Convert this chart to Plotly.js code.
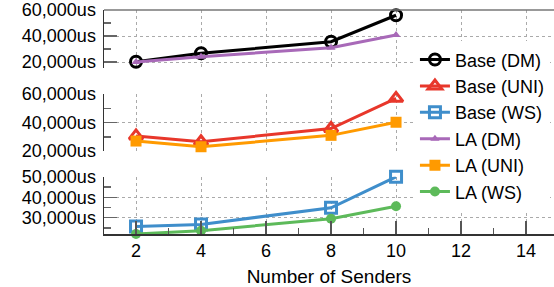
<!DOCTYPE html>
<html>
<head>
<meta charset="utf-8">
<script src="https://cdn.plot.ly/plotly-3.0.1.min.js"></script>
<style>html,body{margin:0;padding:0;background:#fff;}#chart{width:554px;height:287px;}</style>
</head>
<body>
<div id="chart"></div>
<script>
const senders = [2, 4, 8, 10];
const baseDM  = [20200, 26700, 35600, 56000];
const laDM    = [20000, 24100, 31000, 40800];
const baseUNI = [30600, 26500, 35800, 57000];
const laUNI   = [27000, 23000, 31000, 40200];
const baseWS  = [25700, 26700, 34900, 50100];
const laWS    = [22000, 23600, 29500, 35600];

const FONT = 'Liberation Sans, Arial, sans-serif';
const C = {black:'#000000', red:'#E8372B', blue:'#3F8ECB', purple:'#A869B8', orange:'#FF9A00', green:'#5DBA5A'};

function tr(name, y, yaxis, color, symbol, size, lw) {
  return {
    x: senders, y: y, name: name, yaxis: yaxis, xaxis: 'x',
    type: 'scatter', mode: 'lines+markers', cliponaxis: false,
    line: {color: color, width: 3},
    marker: {symbol: symbol, size: size, color: color, line: {color: color, width: lw}}
  };
}

const data = [
  tr('Base (DM)', baseDM, 'y3', C.black, 'circle-open', 11, 3),
  tr('Base (UNI)', baseUNI, 'y2', C.red, 'triangle-up-open', 12, 3),
  tr('Base (WS)', baseWS, 'y', C.blue, 'square-open', 11, 3),
  tr('LA (DM)', laDM, 'y3', C.purple, 'triangle-up', 8, 0),
  tr('LA (UNI)', laUNI, 'y2', C.orange, 'square', 11, 0),
  tr('LA (WS)', laWS, 'y', C.green, 'circle', 10, 0)
];

function yax(domain, range, dtick, minorDtick) {
  return {
    domain: domain, range: range, dtick: dtick, tick0: 0,
    tickformat: ',d', ticksuffix: 'us', ticklabelstandoff: 3,
    showline: true, linecolor: '#333', linewidth: 1.5,
    ticks: 'inside', ticklen: 13, tickwidth: 1.5, tickcolor: '#666',
    showgrid: true, gridcolor: '#aaa', griddash: 'dot', gridwidth: 1,
    zeroline: false, anchor: 'x',
    tickfont: {family: FONT, size: 18, color: '#000'},
    minor: {dtick: minorDtick, tick0: 0, ticks: 'inside', ticklen: 7, tickwidth: 1.5, tickcolor: '#666', showgrid: false}
  };
}

const layout = {
  width: 554, height: 287,
  margin: {l: 104, r: 0, t: 10, b: 53},
  paper_bgcolor: '#fff', plot_bgcolor: 'rgba(0,0,0,0)',
  font: {family: FONT, size: 18, color: '#000'},
  showlegend: true,
  legend: {x: 0.691, xanchor: 'left', y: 0.86, yanchor: 'top', bgcolor: '#fff',
           font: {family: FONT, size: 18, color: '#000'}, tracegroupgap: 0, itemwidth: 30},
  xaxis: {
    range: [1.015, 14.86], dtick: 2, tick0: 0, anchor: 'y',
    showline: true, linecolor: '#333', linewidth: 1.5,
    ticks: 'inside', ticklen: 13, tickwidth: 1.5, tickcolor: '#555',
    showgrid: true, gridcolor: '#aaa', griddash: 'dot', gridwidth: 1, zeroline: false,
    tickfont: {family: FONT, size: 18, color: '#000'},
    minor: {dtick: 1, tick0: 0, ticks: 'inside', ticklen: 6, tickwidth: 1.5, tickcolor: '#555', showgrid: false},
    title: {text: 'Number of Senders', font: {family: FONT, size: 19, color: '#000'}, standoff: 16}
  },
  yaxis: yax([0, 0.2558], [22000, 50150], 10000, 5000),
  yaxis2: yax([0.3705, 0.625], [20000, 60050], 20000, 10000),
  yaxis3: yax([0.741, 1], [15380, 60050], 20000, 10000),
  shapes: [
    {type: 'line', xref: 'paper', yref: 'paper', x0: 0, x1: 1, y0: 1, y1: 1,
     line: {color: '#777', width: 1.5}}
  ]
};

Plotly.newPlot('chart', data, layout, {displayModeBar: false, staticPlot: true});
</script>
</body>
</html>
